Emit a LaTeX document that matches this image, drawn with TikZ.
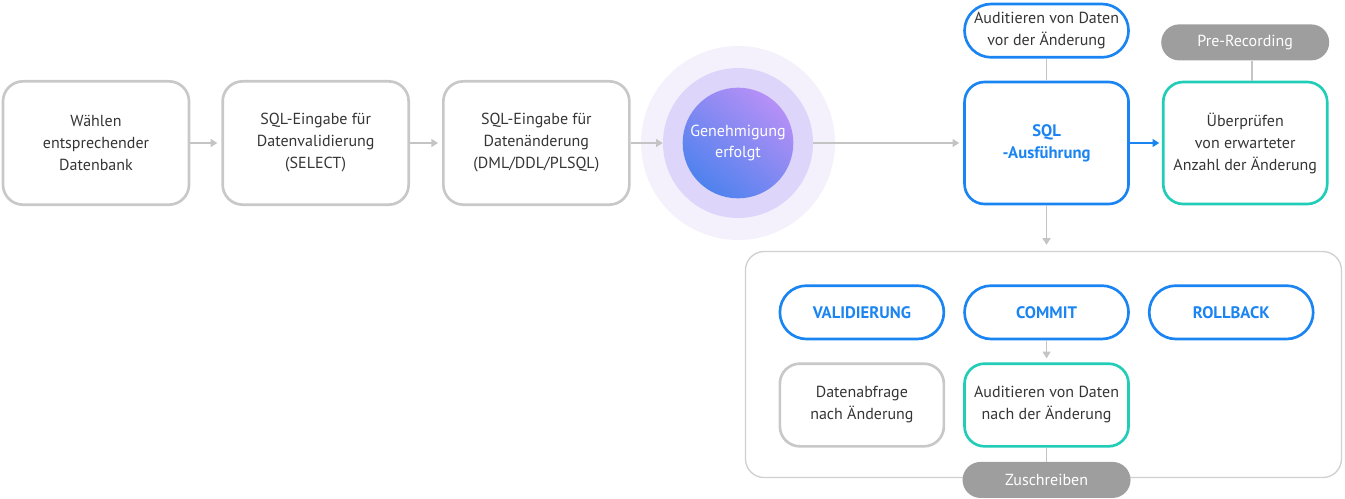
\documentclass[tikz,border=0pt]{standalone}
\usepackage{fontspec}
\setmainfont{PT Sans}
\usetikzlibrary{positioning,arrows.meta}
\definecolor{txt}{HTML}{353535}
\definecolor{boxgray}{HTML}{C8C8C8}
\definecolor{linegray}{HTML}{C4C4C4}
\definecolor{pillgray}{HTML}{9E9E9E}
\definecolor{sqlblue}{HTML}{1A84F2}
\definecolor{checkteal}{HTML}{22CDB8}
\definecolor{haloA}{HTML}{F4F1FD}
\definecolor{haloB}{HTML}{DDD6FA}
\definecolor{gradtop}{HTML}{B690F6}
\definecolor{gradbot}{HTML}{4F82EE}
\definecolor{grpgray}{HTML}{D0D0D0}
\begin{document}
\begin{tikzpicture}[
      box/.style={draw, rounded corners=15pt, line width=2pt, minimum width=139.5pt, minimum height=92.5pt},
      graybox/.style={box, draw=boxgray},
      bluebox/.style={box, draw=sqlblue, minimum width=123pt, minimum height=91.5pt},
      tealbox/.style={box, draw=checkteal, minimum width=123pt, minimum height=91.5pt},
      lowbox/.style={minimum width=123pt, minimum height=62pt},
      pill/.style={draw=sqlblue, rounded corners=20pt, line width=2pt, minimum width=123pt, minimum height=40pt},
      cmd/.style={pill, text=sqlblue, font=\fontsize{12.5}{15}\selectfont\bfseries},
      tag/.style={fill=pillgray, rounded corners=13.5pt, minimum width=126pt, minimum height=27pt, text=white},
      ring/.style={circle, inner sep=0pt},
      flow/.style={draw=linegray, line width=1pt, -{Triangle[width=6pt,length=5pt]}},
      link/.style={draw=linegray, line width=1pt},
      every node/.style={align=center, text=txt, font=\fontsize{12}{16.5}\selectfont}]
    \useasboundingbox (0,0) rectangle (1008.75pt,-374.25pt);

    \node[graybox](db) at (72pt,-107.25pt) {Wählen\\entsprechender\\Datenbank};
    \node[graybox, right=23.25pt of db](valin) {SQL-Eingabe für\\Datenvalidierung\\(SELECT)};
    \node[graybox, right=24pt of valin](chg) {SQL-Eingabe für\\Datenänderung\\(DML/DDL/PLSQL)};
    \draw[flow, shorten >=3pt] (db) -- (valin);
    \draw[flow, shorten >=3pt] (valin) -- (chg);

    \node[ring, fill=haloA, minimum size=145.5pt](ring1) at (553.5pt,-107.25pt) {};
    \node[ring, fill=haloB, minimum size=112.5pt](ring2) at (ring1) {};
    \node[ring, minimum size=83pt, top color=gradtop, bottom color=gradbot, shading angle=-40,
      text=white](ok) at (ring1) {Genehmigung\\erfolgt};
    \draw[flow] (chg) -- (ring2);

    \node[bluebox, text=sqlblue, font=\fontsize{12.5}{16.5}\selectfont\bfseries](sql) at (784.9pt,-107.25pt) {SQL\\-Ausführung};
    \draw[flow, shorten >=3pt] (ring2) -- (sql);
    \node[pill, above=16.5pt of sql](audpre) {Auditieren von Daten\\vor der Änderung};
    \draw[link] (audpre) -- (sql);

    \node[tealbox, right=24pt of sql](check) {Überprüfen\\von erwarteter\\Anzahl der Änderung};
    \node[tag, above=15pt of check](prerec) {Pre-Recording};
    \draw[link] ([xshift=5pt]prerec.south) -- ([xshift=5pt]check.north);
    \draw[flow, draw=sqlblue, shorten >=2pt] (sql) -- (check);

    \node[draw=grpgray, line width=1pt, rounded corners=14pt, minimum width=447pt, minimum height=169.5pt](grp) at (782.6pt,-273.4pt) {};
    \draw[flow, shorten >=4.5pt] (sql.south) -- (sql.south |- grp.north);

    \node[cmd, below=59.25pt of sql](commit) {COMMIT};
    \node[cmd, left=13.5pt of commit](valid) {VALIDIERUNG};
    \node[cmd, right=13.5pt of commit](rollback) {ROLLBACK};

    \node[tealbox, lowbox, below=16.5pt of commit](audpost) {Auditieren von Daten\\nach der Änderung};
    \node[graybox, lowbox, left=13.5pt of audpost](query) {Datenabfrage\\nach Änderung};
    \draw[flow, shorten >=3pt] (commit) -- (audpost);

    \node[tag, below=10.5pt of audpost](write) {Zuschreiben};
    \draw[link] (audpost) -- (write);
  \end{tikzpicture}
\end{document}
